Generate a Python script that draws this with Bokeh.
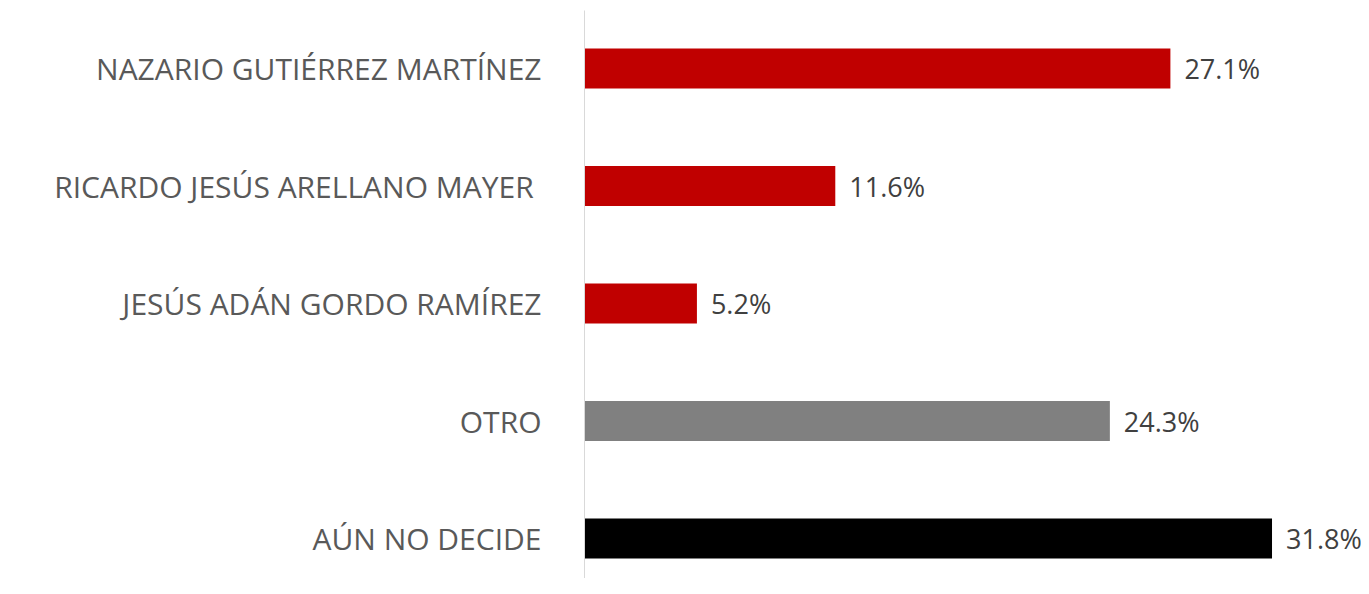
from bokeh.plotting import figure
from bokeh.models import Range1d, FixedTicker, ColumnDataSource
from bokeh.core.properties import value
from bokeh.embed import file_html
from bokeh.resources import INLINE

categories = ["NAZARIO GUTIÉRREZ MARTÍNEZ", "RICARDO JESÚS ARELLANO MAYER ", "JESÚS ADÁN GORDO RAMÍREZ", "OTRO", "AÚN NO DECIDE"]
values = [27.1, 11.6, 5.2, 24.3, 31.8]
colors = ["#C00000", "#C00000", "#C00000", "#808080", "#000000"]
labels = ["27.1%", "11.6%", "5.2%", "24.3%", "31.8%"]

n = len(categories)
ypos = [n - 1 - i for i in range(n)]

src = ColumnDataSource(dict(y=ypos, v=values, c=colors, lab=labels, cat=categories))

FONT = "Open Sans"

W = 1361
LEFT = 584
PX_PER_UNIT = 21.62

p = figure(width=W, height=578, output_backend="svg", toolbar_location=None,
           x_range=Range1d(0, (W - LEFT) / PX_PER_UNIT), y_range=Range1d(-0.340, 4.494),
           min_border_left=LEFT, min_border_top=10, min_border_bottom=0, min_border_right=0)

p.hbar(y="y", right="v", left=0, height=0.34, fill_color="c", line_color=None, source=src)
p.text(x="v", y="y", text="lab", x_offset=14, text_baseline="middle", text_align="left",
       text_font=value(FONT), text_font_size="27px", text_color="#404040", source=src)

p.xaxis.visible = False
p.xgrid.visible = False
p.ygrid.visible = False
p.outline_line_color = None

ya = p.yaxis[0]
ya.ticker = FixedTicker(ticks=ypos)
ya.major_label_overrides = {y: c for y, c in zip(ypos, categories)}
ya.major_tick_line_color = None
ya.minor_tick_line_color = None
ya.axis_line_color = "#D9D9D9"
ya.axis_line_width = 1
ya.major_label_standoff = 37
ya.major_label_text_font = FONT
ya.major_label_text_font_size = "30px"
ya.major_label_text_color = "#595959"

open("out.html", "w").write(file_html(p, INLINE))
